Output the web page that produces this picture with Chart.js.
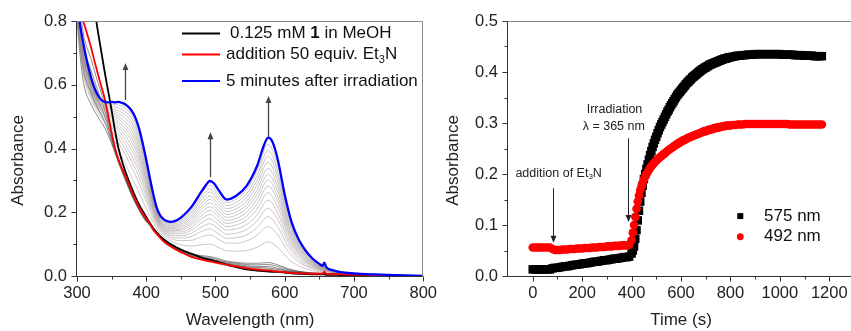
<!DOCTYPE html>
<html><head><meta charset="utf-8">
<script src="https://cdn.jsdelivr.net/npm/chart.js@4/dist/chart.umd.min.js"></script>
<style>
html,body{margin:0;padding:0;background:#fff;overflow:hidden;width:851px;height:331px}
#wrap{position:relative;width:851px;height:331px;overflow:hidden;background:#fff}
#c1{position:absolute;left:0;top:0;width:440px;height:331px}
#c2{position:absolute;left:430px;top:0;width:430px;height:331px}
</style></head><body>
<div id="wrap"><canvas id="c1" width="440" height="331"></canvas><canvas id="c2" width="430" height="331"></canvas></div>
<script>
// ================= DATA =================
// ---- Left panel: UV-vis spectra (wavelength nm, absorbance) ----
const WAVELENGTH = [300,305,310,315,320,325,330,335,340,345, 350,355,360,365,370,375,380,385,390,395,
  400,405,410,415,420,427,435,442,450,465, 480,486,492,498,505,516,530,545,560,570,
  576,582,590,600,610,620,630,640,650,655, 657,660,670,680,700,730,760,800];
const ABS_INITIAL = [1.2,1.13,1.06,0.99,0.91,0.84,0.77,0.705,0.64,0.58,
  0.52,0.455,0.40,0.36,0.327,0.298,0.27,0.245,0.222,0.203,
  0.185,0.167,0.15,0.137,0.125,0.112,0.1,0.092,0.083,0.07,
  0.058,0.054,0.051,0.047,0.043,0.036,0.028,0.021,0.017,0.015,
  0.014,0.013,0.013,0.011,0.008,0.007,0.006,0.005,0.005,0.005,
  0.005,0.004,0.004,0.003,0.003,0.002,0.001,0.0];
const ABS_ET3N = [0.865,0.83,0.793,0.757,0.72,0.676,0.635,0.596,0.557,0.505,
  0.45,0.40,0.365,0.338,0.315,0.287,0.26,0.237,0.215,0.196,
  0.18,0.164,0.145,0.132,0.12,0.105,0.093,0.084,0.075,0.06,
  0.051,0.048,0.046,0.043,0.04,0.035,0.03,0.024,0.02,0.018,
  0.017,0.016,0.014,0.012,0.01,0.009,0.008,0.007,0.007,0.007,
  0.014,0.007,0.006,0.005,0.004,0.003,0.001,0.0];
const ABS_FINAL = [0.86,0.78,0.72,0.668,0.625,0.592,0.568,0.553,0.546,0.545,
  0.546,0.545,0.546,0.543,0.538,0.529,0.515,0.493,0.46,0.415,
  0.365,0.31,0.258,0.215,0.19,0.175,0.17,0.173,0.183,0.216,
  0.266,0.285,0.298,0.29,0.268,0.24,0.252,0.283,0.345,0.41,
  0.434,0.422,0.365,0.255,0.168,0.115,0.08,0.055,0.038,0.032,
  0.042,0.028,0.018,0.012,0.008,0.005,0.003,0.0];
// intermediate spectra recorded during irradiation (grey)
const WAVELENGTH_GREY = [300,305,310,320,330,340,350,360,370,380,390,400,410,420,435,450,465,480,492,505,516,530,545,560,576,590,605,620,640,660,700,800];
const GREY_E1 = [0.896,0.824,0.752,0.682,0.608,0.539,0.443,0.367,0.312,0.258,0.213,0.178,0.146,0.121,0.094,0.076,0.062,0.053,0.049,0.042,0.037,0.032,0.027,0.023,0.021,0.017,0.013,0.010,0.007,0.007,0.004,0];
const GREY_E2 = [0.872,0.788,0.714,0.647,0.581,0.52,0.436,0.364,0.309,0.255,0.211,0.176,0.147,0.121,0.095,0.077,0.063,0.055,0.051,0.045,0.039,0.034,0.029,0.027,0.025,0.021,0.015,0.011,0.008,0.007,0.004,0];
const GREY_E3 = [0.848,0.752,0.676,0.611,0.554,0.502,0.429,0.361,0.306,0.253,0.209,0.174,0.148,0.122,0.095,0.078,0.065,0.058,0.054,0.047,0.041,0.037,0.032,0.03,0.03,0.024,0.017,0.012,0.008,0.008,0.004,0];
const GREY_E4 = [0.824,0.716,0.638,0.576,0.527,0.483,0.422,0.358,0.303,0.25,0.207,0.172,0.15,0.123,0.096,0.08,0.067,0.061,0.057,0.05,0.044,0.04,0.036,0.035,0.036,0.03,0.02,0.014,0.009,0.008,0.004,0];
const GREY_E5 = [0.80,0.68,0.60,0.54,0.50,0.465,0.415,0.355,0.30,0.248,0.205,0.17,0.152,0.124,0.098,0.081,0.069,0.064,0.061,0.054,0.047,0.043,0.04,0.04,0.042,0.035,0.023,0.015,0.01,0.008,0.004,0];
const GREY_F1 = [0.813,0.702,0.626,0.557,0.514,0.482,0.443,0.396,0.351,0.306,0.26,0.212,0.169,0.134,0.11,0.098,0.094,0.098,0.1,0.089,0.079,0.078,0.08,0.09,0.107,0.089,0.054,0.032,0.017,0.012,0.005,0];
const GREY_F2 = [0.82,0.713,0.64,0.566,0.522,0.491,0.458,0.418,0.379,0.336,0.289,0.235,0.181,0.142,0.118,0.111,0.112,0.123,0.129,0.114,0.103,0.103,0.11,0.128,0.155,0.129,0.077,0.044,0.023,0.014,0.005,0];
const GREY_F3 = [0.824,0.721,0.649,0.572,0.526,0.497,0.468,0.432,0.396,0.356,0.308,0.249,0.19,0.147,0.124,0.119,0.124,0.14,0.148,0.131,0.118,0.12,0.129,0.152,0.186,0.154,0.092,0.052,0.026,0.016,0.006,0];
const GREY_F4 = [0.828,0.727,0.656,0.578,0.531,0.503,0.476,0.444,0.412,0.373,0.325,0.262,0.197,0.151,0.129,0.126,0.134,0.154,0.164,0.146,0.131,0.134,0.146,0.173,0.213,0.177,0.105,0.059,0.03,0.017,0.006,0];
const GREY_F5 = [0.832,0.733,0.664,0.582,0.534,0.507,0.484,0.456,0.426,0.39,0.34,0.273,0.203,0.155,0.134,0.132,0.144,0.167,0.18,0.159,0.144,0.148,0.161,0.192,0.238,0.197,0.116,0.065,0.032,0.018,0.006,0];
const GREY_F6 = [0.835,0.739,0.67,0.587,0.538,0.512,0.491,0.466,0.439,0.404,0.354,0.284,0.209,0.159,0.138,0.138,0.152,0.179,0.193,0.172,0.155,0.16,0.176,0.21,0.261,0.216,0.127,0.071,0.035,0.019,0.006,0];
const GREY_F7 = [0.838,0.744,0.676,0.591,0.541,0.516,0.498,0.476,0.451,0.418,0.367,0.294,0.215,0.162,0.142,0.144,0.16,0.19,0.206,0.183,0.165,0.171,0.188,0.226,0.282,0.234,0.137,0.076,0.037,0.02,0.007,0];
const GREY_F8 = [0.841,0.748,0.682,0.594,0.544,0.519,0.503,0.484,0.462,0.43,0.378,0.303,0.22,0.165,0.145,0.148,0.167,0.2,0.217,0.193,0.174,0.181,0.2,0.241,0.301,0.249,0.146,0.081,0.04,0.021,0.007,0];
const GREY_F9 = [0.844,0.753,0.687,0.598,0.547,0.523,0.509,0.493,0.473,0.442,0.39,0.311,0.225,0.168,0.149,0.153,0.175,0.21,0.229,0.203,0.184,0.191,0.212,0.256,0.319,0.265,0.155,0.086,0.042,0.022,0.007,0];
const GREY_F10 = [0.846,0.757,0.692,0.602,0.55,0.527,0.515,0.501,0.483,0.454,0.401,0.32,0.23,0.171,0.152,0.158,0.182,0.22,0.24,0.213,0.193,0.201,0.223,0.27,0.338,0.28,0.164,0.091,0.044,0.023,0.007,0];
const GREY_F11 = [0.849,0.762,0.698,0.605,0.553,0.53,0.521,0.51,0.494,0.466,0.413,0.329,0.235,0.174,0.156,0.163,0.189,0.229,0.251,0.223,0.202,0.211,0.235,0.285,0.357,0.296,0.173,0.095,0.046,0.024,0.007,0];
const GREY_F12 = [0.852,0.766,0.703,0.609,0.556,0.534,0.527,0.518,0.505,0.478,0.424,0.338,0.24,0.177,0.159,0.168,0.196,0.239,0.263,0.234,0.211,0.221,0.247,0.3,0.376,0.312,0.182,0.1,0.048,0.025,0.007,0];
const GREY_F13 = [0.854,0.771,0.709,0.612,0.559,0.537,0.533,0.527,0.515,0.49,0.436,0.346,0.245,0.18,0.163,0.173,0.203,0.249,0.274,0.244,0.221,0.231,0.258,0.314,0.394,0.327,0.191,0.105,0.05,0.026,0.008,0];
const GREY_F14 = [0.857,0.775,0.714,0.616,0.562,0.541,0.539,0.536,0.526,0.502,0.447,0.355,0.25,0.183,0.166,0.178,0.21,0.259,0.285,0.254,0.23,0.241,0.27,0.329,0.413,0.343,0.2,0.11,0.053,0.027,0.008,0];
const GREY_EARLY = [GREY_E1, GREY_E2, GREY_E3, GREY_E4, GREY_E5];
const GREY_FAN = [GREY_F1, GREY_F2, GREY_F3, GREY_F4, GREY_F5, GREY_F6, GREY_F7, GREY_F8, GREY_F9, GREY_F10, GREY_F11, GREY_F12, GREY_F13, GREY_F14];
const LEGEND1 = ['0.125 mM 1 in MeOH', 'addition 50 equiv. Et3N', '5 minutes after irradiation'];
const X1_TICKS = [300,400,500,600,700,800];
const X1_MINOR = [350,450,550,650,750];
const Y1_TICKS = [0,0.2,0.4,0.6,0.8];
const Y1_MINOR = [0.1,0.3,0.5,0.7];

// ---- Right panel: kinetics (time s, absorbance) ----
const TIME = [0,10,20,30,40,50,60,70,80,90,100,110,120,130,140,150,160,170,180,190,200,210,220,230,240,250,260,270,280,290,
  300,310,320,330,340,350,360,370,380,390,
  400,405,410,415,420,425,430,435,440,445,450,455,460,465,470,475,480,485,490,495,
  500,505,510,515,520,525,530,535,540,545,550,555,560,565,570,575,580,585,590,595,
  600,605,610,615,620,625,630,635,640,645,650,655,660,665,670,675,680,685,690,695,
  700,705,710,715,720,725,730,735,740,745,750,755,760,765,770,775,780,785,790,795,
  800,810,820,830,840,850,860,870,880,890,
  900,910,920,930,940,950,960,970,980,990,1000,1010,1020,1030,1040,1050,1060,1070,1080,1090,1100,1110,1120,1130,1140,1150,1160,1170];
const ABS_575 = [0.013,0.013,0.013,0.013,0.013,0.013,0.013,0.013,
  0.015,0.016,0.016,0.017,0.018,0.019,0.019,0.020,0.021,0.022,
  0.022,0.023,0.024,0.025,0.025,0.026,0.027,0.028,0.028,0.029,
  0.030,0.031,0.031,0.032,0.033,0.034,0.034,0.035,0.036,0.037,
  0.037,0.038,
  0.044,0.050,0.058,0.073,0.090,0.109,0.128,0.146,0.163,0.177,0.190,0.200,0.210,0.219,0.228,0.237,0.245,0.253,0.260,0.267,
  0.273,0.280,0.286,0.292,0.297,0.302,0.307,0.312,0.317,0.322,0.326,0.331,0.335,0.339,0.343,0.347,0.351,0.355,0.358,0.361,
  0.364,0.367,0.370,0.373,0.376,0.379,0.381,0.384,0.386,0.389,0.391,0.393,0.395,0.397,0.399,0.401,0.403,0.405,0.406,0.408,
  0.409,0.411,0.412,0.414,0.415,0.416,0.417,0.418,0.419,0.420,0.421,0.422,0.423,0.424,0.425,0.426,0.426,0.427,0.428,0.429,
  0.429,0.430,0.431,0.432,0.432,0.433,0.433,0.434,0.434,0.434,
  0.435,0.435,0.435,0.435,0.435,0.435,0.435,0.435,0.435,0.435,
  0.435,0.434,0.434,0.434,0.434,0.434,0.433,0.433,0.433,0.433,
  0.432,0.432,0.432,0.432,0.431,0.431,0.431,0.431];
const ABS_492 = [0.056,0.056,0.056,0.056,0.056,0.056,0.056,0.056,
  0.053,0.051,0.051,0.051,0.052,0.052,0.052,0.053,0.053,0.053,
  0.054,0.054,0.054,0.055,0.055,0.055,0.056,0.056,0.056,0.057,
  0.057,0.057,0.058,0.058,0.058,0.059,0.059,0.059,0.060,0.060,
  0.060,0.061,
  0.070,0.085,0.100,0.116,0.132,0.146,0.158,0.168,0.176,0.183,0.190,0.195,0.200,0.204,0.208,0.212,0.215,0.218,0.221,0.224,
  0.226,0.229,0.231,0.233,0.235,0.237,0.239,0.241,0.243,0.245,0.247,0.249,0.250,0.252,0.254,0.256,0.257,0.259,0.260,0.262,
  0.263,0.265,0.266,0.267,0.268,0.270,0.271,0.272,0.273,0.274,0.275,0.276,0.277,0.278,0.279,0.280,0.281,0.282,0.283,0.284,
  0.284,0.285,0.286,0.287,0.287,0.288,0.289,0.290,0.290,0.291,0.291,0.292,0.292,0.293,0.293,0.294,0.294,0.295,0.295,0.295,
  0.295,0.296,0.296,0.297,0.297,0.297,0.298,0.298,0.298,0.298,
  0.298,0.298,0.298,0.298,0.298,0.298,0.298,0.298,0.298,0.298,
  0.298,0.298,0.298,0.298,0.297,0.297,0.297,0.297,0.297,0.297,
  0.297,0.297,0.297,0.297,0.297,0.297,0.297,0.297];
const LEGEND2 = ['575 nm', '492 nm'];
const X2_TICKS = [0,200,400,600,800,1000,1200];
const X2_MINOR = [100,300,500,700,900,1100];
const Y2_TICKS = [0,0.1,0.2,0.3,0.4,0.5];
const Y2_MINOR = [0.05,0.15,0.25,0.35,0.45];

// ================= STYLE / HELPERS =================
const FONT = '"Liberation Sans", Arial, Helvetica, sans-serif';
const TXT = '#222';
const AXIS = '#333';
const FRAME = '#888';

function pts(xs, ys) { return xs.map((x, i) => ({x: x, y: ys[i]})); }

function frameTicks(ctx, a, xs, ys, xt, xm, yt, ym, rightBorder) {
  ctx.save();
  ctx.lineWidth = 1;
  ctx.strokeStyle = FRAME;
  ctx.beginPath();
  const T = Math.round(a.top) + 0.5, B = Math.round(a.bottom) + 0.5;
  const L = Math.round(a.left) - 0.5, R = Math.round(a.right) - 0.5;
  ctx.moveTo(L, T); ctx.lineTo(R, T);
  if (rightBorder) ctx.lineTo(R, B);
  ctx.stroke();
  ctx.strokeStyle = AXIS;
  ctx.beginPath();
  ctx.moveTo(L, T); ctx.lineTo(L, B); ctx.lineTo(R, B);
  xt.forEach(v => { const p = Math.round(xs.getPixelForValue(v)) + 0.5; ctx.moveTo(p, B); ctx.lineTo(p, B + 5); });
  xm.forEach(v => { const p = Math.round(xs.getPixelForValue(v)) + 0.5; ctx.moveTo(p, B); ctx.lineTo(p, B + 3); });
  yt.forEach(v => { const p = Math.round(ys.getPixelForValue(v)) + 0.5; ctx.moveTo(L, p); ctx.lineTo(L - 5, p); });
  ym.forEach(v => { const p = Math.round(ys.getPixelForValue(v)) + 0.5; ctx.moveTo(L, p); ctx.lineTo(L - 3, p); });
  ctx.stroke();
  ctx.restore();
}

function yTitle(ctx, x, y, text) {
  ctx.save();
  ctx.fillStyle = TXT; ctx.font = '17px ' + FONT;
  ctx.textAlign = 'center'; ctx.textBaseline = 'middle';
  ctx.translate(x, y); ctx.rotate(-Math.PI / 2); ctx.fillText(text, 0, 0);
  ctx.restore();
}

function arrow(ctx, x, y0, y1, color, w, head) {
  const dir = y1 < y0 ? 1 : -1;
  ctx.save();
  ctx.strokeStyle = color; ctx.fillStyle = color; ctx.lineWidth = w;
  ctx.beginPath(); ctx.moveTo(x, y0); ctx.lineTo(x, y1 + dir * head * 0.8); ctx.stroke();
  ctx.beginPath(); ctx.moveTo(x, y1); ctx.lineTo(x - head * 0.42, y1 + dir * head); ctx.lineTo(x + head * 0.42, y1 + dir * head); ctx.closePath(); ctx.fill();
  ctx.restore();
}

function rich(ctx, x, y, parts, size) {
  let cx = x;
  ctx.textAlign = 'left'; ctx.textBaseline = 'middle';
  parts.forEach(p => {
    const fs = p.sub ? Math.round(size * 0.65) : size;
    ctx.font = (p.bold ? 'bold ' : '') + fs + 'px ' + FONT;
    ctx.fillText(p.t, cx, p.sub ? y + size * 0.3 : y);
    cx += ctx.measureText(p.t).width;
  });
}
function splitEt3N(s) {
  const i = s.indexOf('Et3N');
  if (i < 0) return [{t: s}];
  return [{t: s.slice(0, i) + 'Et'}, {t: '3', sub: true}, {t: 'N' + s.slice(i + 4)}];
}
function splitBold1(s) {
  const i = s.indexOf(' 1 ');
  if (i < 0) return [{t: s}];
  return [{t: s.slice(0, i + 1)}, {t: '1', bold: true}, {t: s.slice(i + 2)}];
}

// ================= LEFT CHART =================
const leftDeco = {
  id: 'leftDeco',
  afterDraw(chart) {
    const {ctx, chartArea: a, scales: {x, y}} = chart;
    frameTicks(ctx, a, x, y, X1_TICKS, X1_MINOR, Y1_TICKS, Y1_MINOR, true);
    yTitle(ctx, 18, (a.top + a.bottom) / 2 + 12, 'Absorbance');
    [[370, 0.552, 0.668], [492, 0.31, 0.451], [576, 0.436, 0.565]].forEach(r => {
      arrow(ctx, Math.round(x.getPixelForValue(r[0])) + 0.5, y.getPixelForValue(r[1]), y.getPixelForValue(r[2]), '#444', 1.3, 7);
    });
    const cols = ['#000000', '#ff0000', '#0000ff'];
    const rows = [a.top + 12.5, a.top + 33.5, a.top + 60];
    ctx.save();
    LEGEND1.forEach((s, i) => {
      ctx.strokeStyle = cols[i]; ctx.lineWidth = 2;
      ctx.beginPath(); ctx.moveTo(a.left + 105, rows[i]); ctx.lineTo(a.left + 143, rows[i]); ctx.stroke();
      ctx.fillStyle = '#111';
      let parts = splitEt3N(s);
      if (i === 0) parts = splitBold1(s);
      rich(ctx, a.left + (i === 0 ? 153 : 149), rows[i], parts, 17);
    });
    ctx.restore();
  }
};

const greyDatasets = [];
GREY_FAN.forEach(arr => greyDatasets.push({
  data: pts(WAVELENGTH_GREY, arr), borderColor: 'rgba(150,135,135,0.8)', borderWidth: 0.6,
  pointRadius: 0, cubicInterpolationMode: 'monotone', fill: false
}));
GREY_EARLY.forEach(arr => greyDatasets.push({
  data: pts(WAVELENGTH_GREY, arr), borderColor: 'rgba(50,50,50,0.8)', borderWidth: 0.7,
  pointRadius: 0, cubicInterpolationMode: 'monotone', fill: false
}));

new Chart(document.getElementById('c1'), {
  type: 'line',
  data: {
    datasets: [
      {label: LEGEND1[2], data: pts(WAVELENGTH, ABS_FINAL), borderColor: '#0000ff', borderWidth: 2.3, pointRadius: 0, cubicInterpolationMode: 'monotone', fill: false},
      {label: LEGEND1[1], data: pts(WAVELENGTH, ABS_ET3N), borderColor: '#ff0000', borderWidth: 1.8, pointRadius: 0, cubicInterpolationMode: 'monotone', fill: false},
      {label: LEGEND1[0], data: pts(WAVELENGTH, ABS_INITIAL), borderColor: '#000000', borderWidth: 1.8, pointRadius: 0, cubicInterpolationMode: 'monotone', fill: false}
    ].concat(greyDatasets)
  },
  options: {
    responsive: false, animation: false, devicePixelRatio: 1, events: [],
    layout: {padding: {left: 0, right: 16, top: 21, bottom: 0}},
    plugins: {legend: {display: false}, tooltip: {enabled: false}},
    scales: {
      x: {
        type: 'linear', min: 300, max: 800,
        afterBuildTicks: s => { s.ticks = X1_TICKS.map(v => ({value: v})); },
        afterFit: s => { s.height = 55; },
        grid: {display: false, drawTicks: true, tickLength: 5},
        border: {display: false},
        ticks: {autoSkip: false, maxRotation: 0, padding: 3, color: TXT, font: {family: FONT, size: 16.5}, callback: v => String(v)},
        title: {display: true, text: 'Wavelength (nm)', color: TXT, font: {family: FONT, size: 17}, padding: {top: 0, bottom: 0}}
      },
      y: {
        type: 'linear', min: 0, max: 0.8,
        afterBuildTicks: s => { s.ticks = Y1_TICKS.map(v => ({value: v})); },
        afterFit: s => { s.width = 77; },
        grid: {display: false, drawTicks: true, tickLength: 5},
        border: {display: false},
        ticks: {padding: 5, color: TXT, font: {family: FONT, size: 16.5}, callback: v => Number(v).toFixed(1)}
      }
    }
  },
  plugins: [leftDeco]
});

// ================= RIGHT CHART =================
const rightDeco = {
  id: 'rightDeco',
  afterDraw(chart) {
    const {ctx, chartArea: a, scales: {x, y}} = chart;
    frameTicks(ctx, a, x, y, X2_TICKS, X2_MINOR, Y2_TICKS, Y2_MINOR, false);
    yTitle(ctx, 23, (a.top + a.bottom) / 2 + 12, 'Absorbance');
    ctx.save();
    ctx.fillStyle = '#222';
    rich(ctx, x.getPixelForValue(-70), y.getPixelForValue(0.201), splitEt3N('addition of Et3N'), 12.5);
    ctx.font = '12.5px ' + FONT; ctx.textAlign = 'center'; ctx.textBaseline = 'middle';
    ctx.fillText('Irradiation', x.getPixelForValue(331), y.getPixelForValue(0.327));
    ctx.fillText('\u03bb = 365 nm', x.getPixelForValue(328), y.getPixelForValue(0.294));
    ctx.restore();
    [[83, 0.172, 0.065], [386, 0.27, 0.106]].forEach(r => {
      arrow(ctx, Math.round(x.getPixelForValue(r[0])) + 0.5, y.getPixelForValue(r[1]), y.getPixelForValue(r[2]), '#222', 1, 7);
    });
    ctx.save();
    const mx = x.getPixelForValue(840), tx = x.getPixelForValue(936);
    const r1 = y.getPixelForValue(0.1175), r2 = y.getPixelForValue(0.077);
    ctx.fillStyle = '#000'; ctx.fillRect(mx - 3, r1 - 3, 6, 6);
    ctx.fillStyle = '#ff0000'; ctx.beginPath(); ctx.arc(mx, r2, 3.4, 0, Math.PI * 2); ctx.fill();
    ctx.fillStyle = '#111'; ctx.font = '17px ' + FONT; ctx.textAlign = 'left'; ctx.textBaseline = 'middle';
    ctx.fillText(LEGEND2[0], tx, r1); ctx.fillText(LEGEND2[1], tx, r2);
    ctx.restore();
  }
};

new Chart(document.getElementById('c2'), {
  type: 'scatter',
  data: {
    datasets: [
      {label: LEGEND2[1], data: pts(TIME, ABS_492), pointStyle: 'circle', pointRadius: 4.3, backgroundColor: '#ff0000', borderWidth: 0},
      {label: LEGEND2[0], data: pts(TIME, ABS_575), pointStyle: 'rect', pointRadius: 6, backgroundColor: '#000000', borderWidth: 0}
    ]
  },
  options: {
    responsive: false, animation: false, devicePixelRatio: 1, events: [],
    layout: {padding: {left: 0, right: 4, top: 21, bottom: 0}},
    plugins: {legend: {display: false}, tooltip: {enabled: false}},
    scales: {
      x: {
        type: 'linear', min: -100, max: 1300,
        afterBuildTicks: s => { s.ticks = X2_TICKS.map(v => ({value: v})); },
        afterFit: s => { s.height = 55; },
        grid: {display: false, drawTicks: true, tickLength: 5},
        border: {display: false},
        ticks: {autoSkip: false, maxRotation: 0, padding: 3, color: TXT, font: {family: FONT, size: 16.5}, callback: v => String(v)},
        title: {display: true, text: 'Time (s)', color: TXT, font: {family: FONT, size: 17}, padding: {top: 0, bottom: 0}}
      },
      y: {
        type: 'linear', min: 0, max: 0.5,
        afterBuildTicks: s => { s.ticks = Y2_TICKS.map(v => ({value: v})); },
        afterFit: s => { s.width = 78; },
        grid: {display: false, drawTicks: true, tickLength: 5},
        border: {display: false},
        ticks: {padding: 5, color: TXT, font: {family: FONT, size: 16.5}, callback: v => Number(v).toFixed(1)}
      }
    }
  },
  plugins: [rightDeco]
});
</script>
</body></html>
